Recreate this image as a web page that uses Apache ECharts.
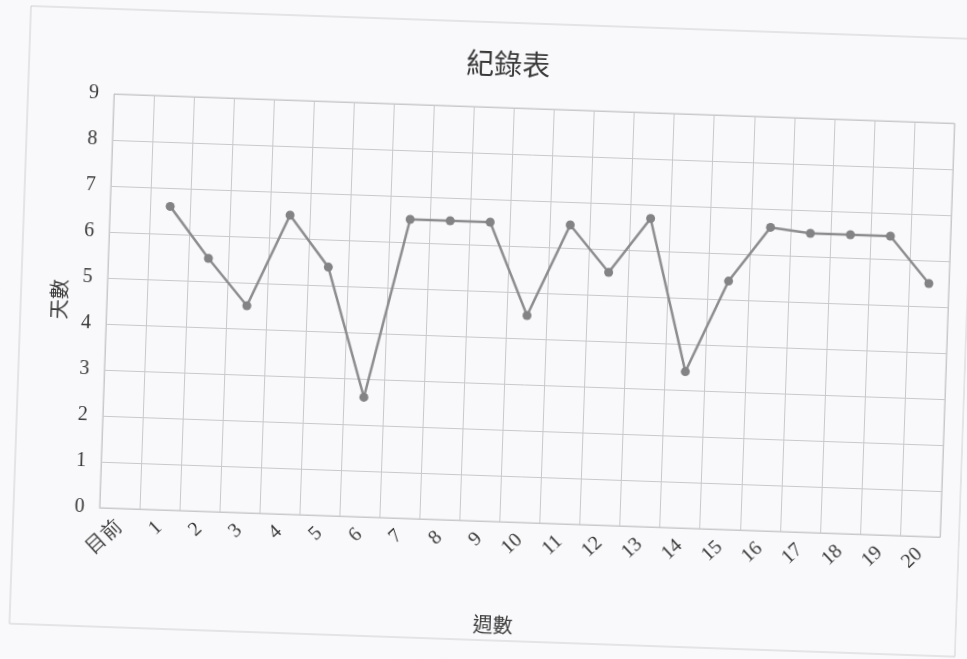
<!DOCTYPE html>
<html>
<head>
<meta charset="utf-8">
<title>紀錄表</title>
<script src="https://cdn.jsdelivr.net/npm/echarts@6/dist/echarts.min.js"></script>
<style>
  html, body { margin: 0; padding: 0; width: 967px; height: 659px; overflow: hidden; background: #f9f9fb; }
  /* the printed sheet sits slightly turned on the page */
  #chart { width: 967px; height: 659px; transform: rotate(2deg); transform-origin: 50% 50%; }
</style>
</head>
<body>
<div id="chart"></div>
<script>
// Weeks on the x axis ("目前" = current), days per week on the y axis
const weeks = ['目前', '1', '2', '3', '4', '5', '6', '7', '8', '9', '10',
               '11', '12', '13', '14', '15', '16', '17', '18', '19', '20'];
const days = [null, 6.6, 5.5, 4.5, 6.5, 5.4, 2.6, 6.5, 6.5, 6.5, 4.5,
              6.5, 5.5, 6.7, 3.4, 5.4, 6.6, 6.5, 6.5, 6.5, 5.5];
const yTicks = [0, 1, 2, 3, 4, 5, 6, 7, 8, 9];

const gridGray = '#c9c9cc';
const inkGray = '#3a3a3a';
const serif = '"Liberation Serif", "DejaVu Serif", serif';
const cjk = '"Noto Sans CJK TC", "Noto Sans CJK SC", sans-serif';

const chart = echarts.init(document.getElementById('chart'), null, { renderer: 'canvas' });

chart.setOption({
  backgroundColor: '#f9f9fb',
  animation: false,
  title: {
    text: '紀錄表',
    left: 494,
    top: 44,
    textAlign: 'center',
    textStyle: { fontFamily: cjk, fontSize: 28, fontWeight: 'normal', color: inkGray }
  },
  graphic: [{
    type: 'rect',
    shape: { x: 20, y: 22, width: 946, height: 618 },
    style: { fill: null, stroke: '#cfcfd2', lineWidth: 1 },
    silent: true,
    z: -1
  }],
  grid: {
    left: 106, right: 20, top: 107, bottom: 138,
    show: true, borderColor: gridGray, borderWidth: 1, backgroundColor: 'transparent'
  },
  xAxis: {
    type: 'category',
    data: weeks,
    boundaryGap: true,
    name: '週數',
    nameLocation: 'middle',
    nameGap: 93,
    nameTextStyle: { fontFamily: cjk, fontSize: 20, color: inkGray, padding: [0, 47, 0, 0] },
    axisLine: { show: true, lineStyle: { color: gridGray, width: 1 } },
    axisTick: { show: false },
    axisLabel: {
      interval: 0,
      rotate: 45,
      margin: 15,
      fontFamily: serif,
      fontSize: 20,
      color: inkGray,
      formatter: v => v
    },
    splitLine: { show: true, interval: 0, lineStyle: { color: gridGray, width: 1 } }
  },
  yAxis: {
    type: 'value',
    min: yTicks[0],
    max: yTicks[yTicks.length - 1],
    interval: 1,
    name: '天數',
    nameLocation: 'middle',
    nameGap: 38,
    nameRotate: 90,
    nameTextStyle: { fontFamily: cjk, fontSize: 20, color: inkGray },
    axisLine: { show: true, lineStyle: { color: gridGray, width: 1 } },
    axisTick: { show: false },
    axisLabel: { margin: 15, fontFamily: serif, fontSize: 20, color: inkGray },
    splitLine: { show: true, lineStyle: { color: gridGray, width: 1 } }
  },
  series: [{
    type: 'line',
    data: days,
    connectNulls: false,
    symbol: 'circle',
    symbolSize: 9,
    lineStyle: { color: '#8d8d8f', width: 2.5 },
    itemStyle: { color: '#838385' }
  }]
});
</script>
</body>
</html>
